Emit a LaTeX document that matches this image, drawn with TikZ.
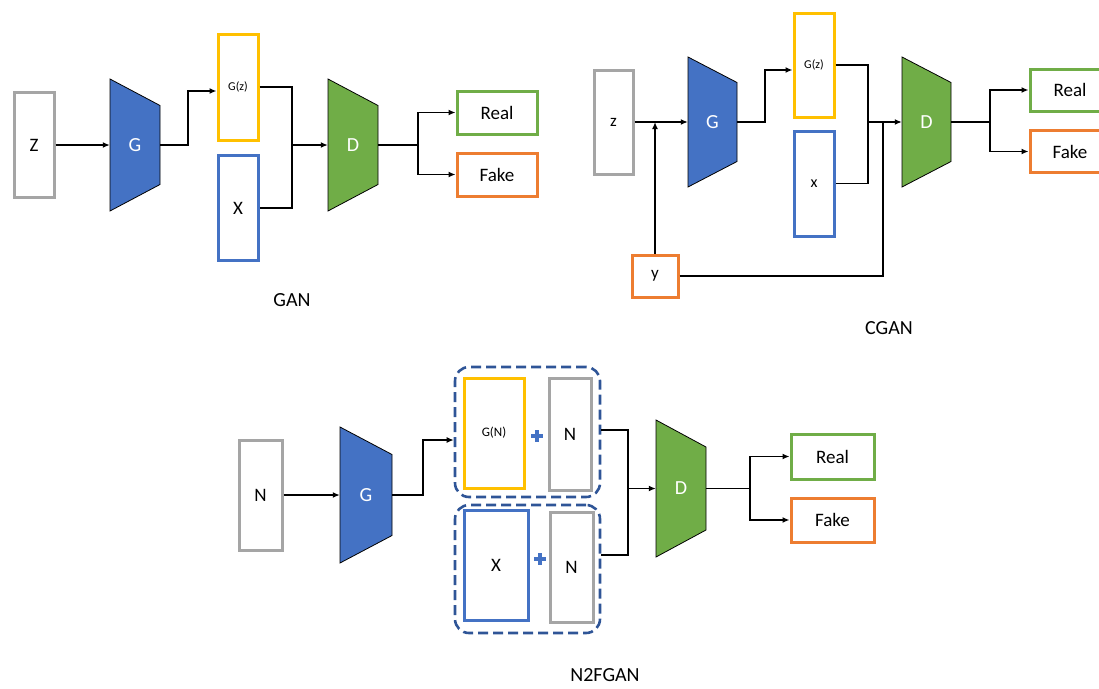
\documentclass[tikz,border=0pt]{standalone}
\usepackage{fontspec}
\setmainfont{Carlito}
\usetikzlibrary{arrows.meta,calc}
\definecolor{cgray}{HTML}{A5A5A5}
\definecolor{cyellow}{HTML}{FFC000}
\definecolor{cblue}{HTML}{4472C4}
\definecolor{cgreen}{HTML}{70AD47}
\definecolor{corange}{HTML}{ED7D31}
\definecolor{cdash}{HTML}{2F5597}
\newcommand\trapnode[8]{%
  \filldraw[fill=#7, draw=black, line width=0.8pt] ({#2-#4},{#3-#5}) -- ({#2+#4},{#3-#6}) -- ({#2+#4},{#3+#6}) -- ({#2-#4},{#3+#5}) -- cycle;
  \node[traplabel, minimum width={2*#4}, minimum height={2*#6}] (#1) at (#2,#3) {#8};}
\tikzset{
  box/.style={draw, line width=3pt, fill=white, inner sep=0pt, font=\fontsize{19}{22}\selectfont},
  traplabel/.style={inner sep=0pt, text=white, font=\fontsize{20}{24}\selectfont},
  conn/.style={line width=1.6pt, black},
  arr/.style={conn, -{Latex[length=7pt,width=6pt]}},
  group/.style={draw=cdash, line width=2.6pt, dash pattern=on 10pt off 5pt, rounded corners=14pt, inner sep=0pt},
  title/.style={font=\fontsize{20}{24}\selectfont},
  plus/.style={draw=cblue, line width=4pt}
}
\begin{document}
\begin{tikzpicture}[x=1pt,y=-1pt]
\useasboundingbox (0,0) rectangle (1099,688);
\clip (0,0) rectangle (1099,688);
% ---------------- GAN ----------------
\node[box, draw=cgray, minimum width=40, minimum height=105] (z1) at (34,145) {Z};
\trapnode{g1}{135}{145}{25}{66}{39.5}{cblue}{G}
\node[box, draw=cyellow, minimum width=40, minimum height=106] (gz1) at (238,87) {\fontsize{12}{14}\selectfont G(z)};
\node[box, draw=cblue, minimum width=40, minimum height=105] (x1) at (238,208) {X};
\trapnode{d1}{353}{145}{25}{66}{39.5}{cgreen}{D}
\node[box, draw=cgreen, minimum width=80, minimum height=43] (real1) at (497,112.5) {Real};
\node[box, draw=corange, minimum width=80, minimum height=43] (fake1) at (497,174.5) {Fake};
\node[title] (t1) at (292,300) {GAN};
\coordinate (j1) at (292,145);
\coordinate (s1) at (418,145);
\draw[arr] (z1) -- (g1);
\draw[arr] (g1.east) -- ++(28,0) |- ([yshift=-4pt]gz1.west);
\draw[conn] (gz1.east) -| (j1) |- (x1.east);
\draw[arr] (j1) -- (d1);
\draw[conn] (d1.east) -- (s1);
\draw[arr] (s1) |- (real1.west);
\draw[arr] (s1) |- (fake1.west);
% ---------------- CGAN ----------------
\node[box, draw=cgray, minimum width=39, minimum height=104, font=\fontsize{17}{20}\selectfont] (z2) at (613.5,122) {z};
\node[box, draw=corange, minimum width=46, minimum height=42, font=\fontsize{17}{20}\selectfont] (y2) at (655,276) {y};
\trapnode{g2}{712.5}{122}{24.5}{65}{39.5}{cblue}{G}
\node[box, draw=cyellow, minimum width=40, minimum height=104] (gz2) at (814,65) {\fontsize{12}{14}\selectfont G(z)};
\node[box, draw=cblue, minimum width=40, minimum height=105, font=\fontsize{16}{19}\selectfont] (x2) at (814,183.5) {x};
\trapnode{d2}{926.5}{122}{24.5}{65}{39.5}{cgreen}{D}
\node[box, draw=cgreen, minimum width=80, minimum height=42] (real2) at (1070,90) {Real};
\node[box, draw=corange, minimum width=80, minimum height=42] (fake2) at (1070,151.5) {Fake};
\node[title] (t2) at (889,328) {CGAN};
\coordinate (j2) at (868,122);
\coordinate (j3) at (883,122);
\coordinate (s2) at (990,122);
\draw[arr] (z2) -- (g2);
\draw[arr] (y2.north) -- (y2.north |- z2.east);
\draw[arr] (g2.east) -- ++(28,0) |- ([yshift=-5pt]gz2.west);
\draw[conn] (gz2.east) -| (j2) |- (x2.east);
\draw[conn] (y2.east) -| (j3);
\draw[arr] (j2) -- (d2);
\draw[conn] (d2.east) -- (s2);
\draw[arr] (s2) |- (real2.west);
\draw[arr] (s2) |- (fake2.west);
% ---------------- N2FGAN ----------------
\node[box, draw=cgray, minimum width=43, minimum height=110] (n3) at (260.5,495) {N};
\trapnode{g3}{366}{495}{26}{68}{40.5}{cblue}{G}
\node[group, minimum width=145, minimum height=130] (grpA) at (527.5,432) {};
\node[group, minimum width=145, minimum height=128] (grpB) at (527.5,569) {};
\node[box, draw=cyellow, minimum width=60, minimum height=110] (gn) at (494,433) {\fontsize{13}{15}\selectfont G(N)};
\node[box, draw=cgray, minimum width=42, minimum height=112] (na) at (570,434) {N};
\node[box, draw=cblue, minimum width=64, minimum height=110] (xb) at (496,565) {X};
\node[box, draw=cgray, minimum width=43, minimum height=110] (nb) at (571.5,567) {N};
\draw[plus] (531,436) -- (543,436) (537,430) -- (537,442);
\draw[plus] (534,559) -- (546,559) (540,553) -- (540,565);
\trapnode{d3}{681}{488.5}{25}{68.5}{41.5}{cgreen}{D}
\node[box, draw=cgreen, minimum width=83, minimum height=45] (real3) at (832.5,456.5) {Real};
\node[box, draw=corange, minimum width=83, minimum height=44] (fake3) at (832.5,520) {Fake};
\node[title] (t3) at (605,675) {N2FGAN};
\coordinate (j4) at (628,488.5);
\coordinate (s3) at (750,488.5);
\draw[arr] (n3) -- (g3);
\draw[arr] (g3.east) -- ++(31,0) |- ([yshift=-8pt]grpA.west);
\draw[conn] ([yshift=2pt]grpA.east) -| (j4) |- ([yshift=14pt]grpB.east);
\draw[arr] (j4) -- (d3);
\draw[conn] (d3.east) -- (s3);
\draw[arr] (s3) |- (real3.west);
\draw[arr] (s3) |- (fake3.west);
\end{tikzpicture}
\end{document}
